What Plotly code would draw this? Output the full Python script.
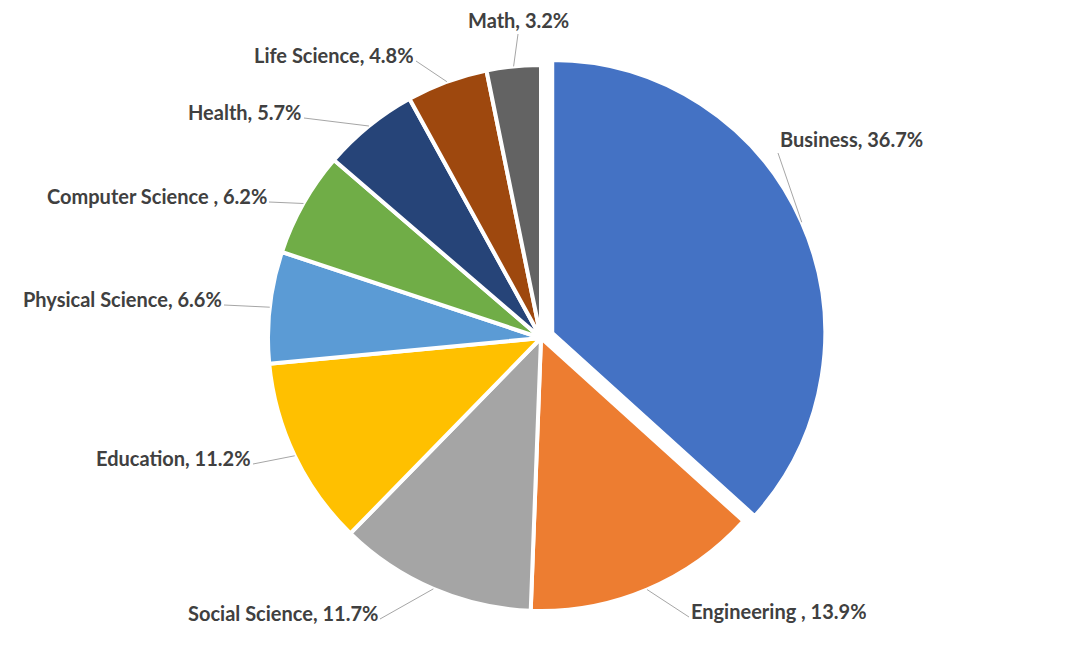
import math
import plotly.graph_objects as go

categories = ["Business", "Engineering ", "Social Science", "Education", "Physical Science",
              "Computer Science ", "Health", "Life Science", "Math"]
values = [36.7, 13.9, 11.7, 11.2, 6.6, 6.2, 5.7, 4.8, 3.2]
colors = ["#4472C4", "#ED7D31", "#A5A5A5", "#FFC000", "#5B9BD5",
          "#70AD47", "#264478", "#9E480E", "#636363"]
pulls = [0.045, 0, 0, 0, 0, 0, 0, 0, 0]

# label tail positions (page pixels, where the leader line leaves the label) and anchors
label_tails = [(778, 153), (689, 617), (380, 619), (253, 464), (224, 305),
               (269, 202), (304, 118), (416, 61), (518, 34)]
label_anchors = [("left", "bottom"), ("left", "middle"), ("right", "middle"), ("right", "middle"),
                 ("right", "middle"), ("right", "middle"), ("right", "middle"), ("right", "middle"),
                 ("center", "bottom")]

W, H = 1080, 645
PAGE = 8  # browser body margin
cx, cy, r = 541 - PAGE, 338 - PAGE, 273
maxpull = max(pulls)
half = r * (1 + maxpull)

fig = go.Figure(go.Pie(
    labels=categories, values=values, sort=False, direction="clockwise", rotation=0,
    marker=dict(colors=colors, line=dict(color="white", width=4)),
    pull=pulls, textinfo="none", hoverinfo="skip",
    domain=dict(x=[(cx - half) / W, (cx + half) / W], y=[1 - (cy + half) / H, 1 - (cy - half) / H]),
    showlegend=False,
))

total = sum(values)
cum = 0.0
annotations = []
for lab, v, p, (tx, ty), (xa, ya) in zip(categories, values, pulls, label_tails, label_anchors):
    mid = (cum + v / 2) / total * 2 * math.pi
    cum += v
    R = r * (1 + p)
    px = cx + R * math.sin(mid)
    py = cy - R * math.cos(mid)
    ann = dict(
        x=px / W, y=1 - py / H, xref="paper", yref="paper",
        text=f"{lab}, {v / total * 100:.1f}%",
        showarrow=True, arrowhead=0, arrowwidth=1, arrowcolor="#A6A6A6",
        ax=(tx - PAGE) - px, ay=(ty - PAGE) - py, xanchor=xa, yanchor=ya,
        standoff=0, startstandoff=0,
        font=dict(family="Lato", size=20, color="#404040", weight="bold"),
    )
    if ya == "middle":
        ann.update(height=36, valign="top")
    annotations.append(ann)

fig.update_layout(
    width=W, height=H, margin=dict(l=0, r=0, t=0, b=0),
    paper_bgcolor="white", plot_bgcolor="white",
    annotations=annotations,
)
fig.write_html("out.html")
